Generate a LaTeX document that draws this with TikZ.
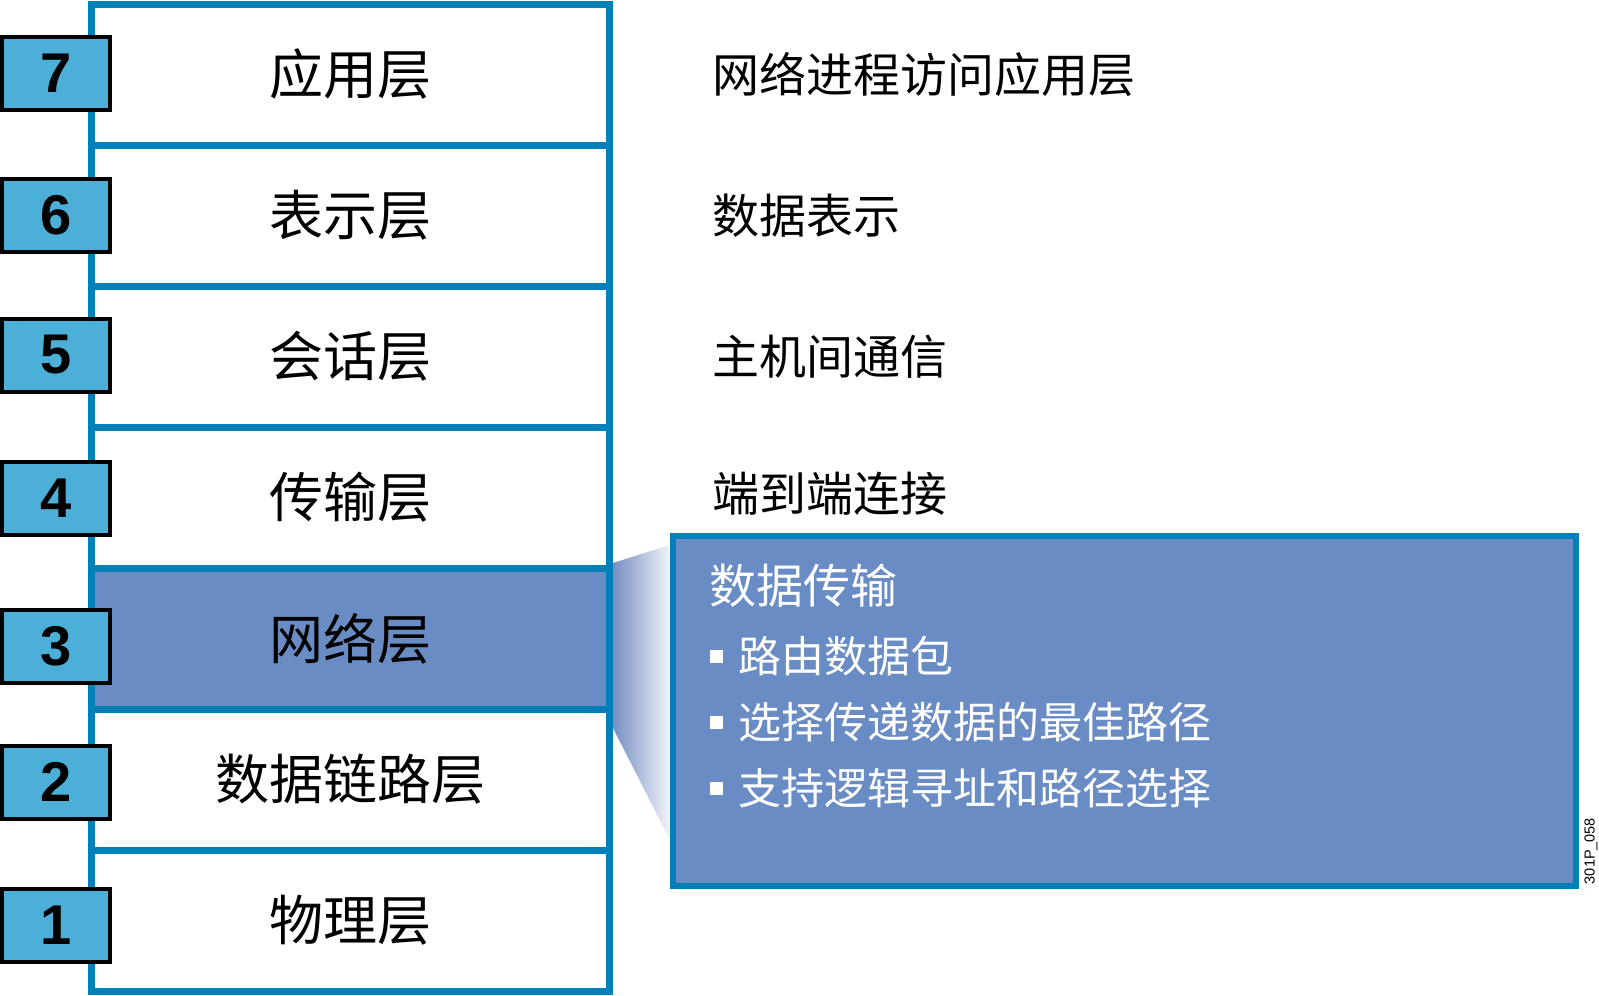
\documentclass[tikz,border=0pt]{standalone}
\usepackage{fontspec}
\setmainfont{Noto Sans CJK SC}
\newfontfamily\numfont{Liberation Sans}
\usepackage{tikz}
\usetikzlibrary{positioning}
\usetikzlibrary{calc}

\definecolor{osiblue}{RGB}{0,128,185}
\definecolor{netblue}{RGB}{106,140,196}
\definecolor{numblue}{RGB}{75,175,215}
\definecolor{fadeblue}{RGB}{118,142,194}

\begin{document}
\begin{tikzpicture}[x=1pt, y=-1pt, node distance=103pt,
    layer node/.style={rectangle,draw=osiblue,line width=7pt,fill=white,outer sep=0pt,inner sep=0pt,
                       minimum width=518pt,minimum height=141pt,font=\fontsize{54}{60}\selectfont},
    num node/.style={rectangle,draw=black,line width=4pt,fill=numblue,inner sep=0pt,
                     minimum width=108pt,minimum height=73pt,font=\numfont\bfseries\fontsize{56}{60}\selectfont},
    desc node/.style={inner sep=0pt,anchor=west,font=\fontsize{47}{52}\selectfont},
    item node/.style={desc node,text=white,font=\fontsize{43}{48}\selectfont},
    bullet node/.style={rectangle,fill=white,minimum size=13pt,inner sep=0pt}]

  \useasboundingbox (0,0) rectangle (1599,996);

  % the seven layers
  \node[layer node] (l7) at (350,74.5) {应用层};
  \node[layer node] (l6) [below=0pt of l7] {表示层};
  \node[layer node] (l5) [below=0pt of l6] {会话层};
  \node[layer node] (l4) [below=0pt of l5] {传输层};
  \node[layer node,fill=netblue] (l3) [below=0pt of l4] {网络层};
  \node[layer node] (l2) [below=0pt of l3] {数据链路层};
  \node[layer node] (l1) [below=0pt of l2] {物理层};

  % layer numbers
  \node[num node] (n7) at (56,73.5) {7};
  \node[num node] (n6) at (56,215) {6};
  \node[num node] (n5) at (56,355) {5};
  \node[num node] (n4) at (56,498) {4};
  \node[num node] (n3) at (56,646) {3};
  \node[num node] (n2) at (56,782) {2};
  \node[num node] (n1) at (56,925) {1};

  % descriptions
  \node[desc node] (d7) [right=of l7] {网络进程访问应用层};
  \node[desc node] (d6) [right=of l6] {数据表示};
  \node[desc node] (d5) [right=of l5] {主机间通信};
  \node[desc node,yshift=4pt] (d4) [right=of l4] {端到端连接};

  % callout for the network layer
  \coordinate (w1) at (613,563);
  \coordinate (w2) at (676,543);
  \coordinate (w3) at (676,852);
  \coordinate (w4) at (613,728);
  \shade[left color=fadeblue,right color=white] (w1) -- (w2) -- (w3) -- (w4) -- cycle;

  \node[rectangle,draw=osiblue,line width=6pt,fill=netblue,outer sep=0pt,
        minimum width=903pt,minimum height=350pt] (callout) at (1124.5,711) {};

  \node[desc node,text=white] (title) at (709,586) {数据传输};
  \node[bullet node] (b1) at (716.5,656) {};
  \node[bullet node] (b2) at (716.5,722) {};
  \node[bullet node] (b3) at (716.5,788) {};
  \node[item node,right=15pt of b1] (t1) {路由数据包};
  \node[item node,right=15pt of b2] (t2) {选择传递数据的最佳路径};
  \node[item node,right=15pt of b3] (t3) {支持逻辑寻址和路径选择};

  \node[rotate=90,inner sep=0pt,font=\numfont\fontsize{14.5}{15}\selectfont] (tag) at (1591,851) {301P\_058};

\end{tikzpicture}
\end{document}
